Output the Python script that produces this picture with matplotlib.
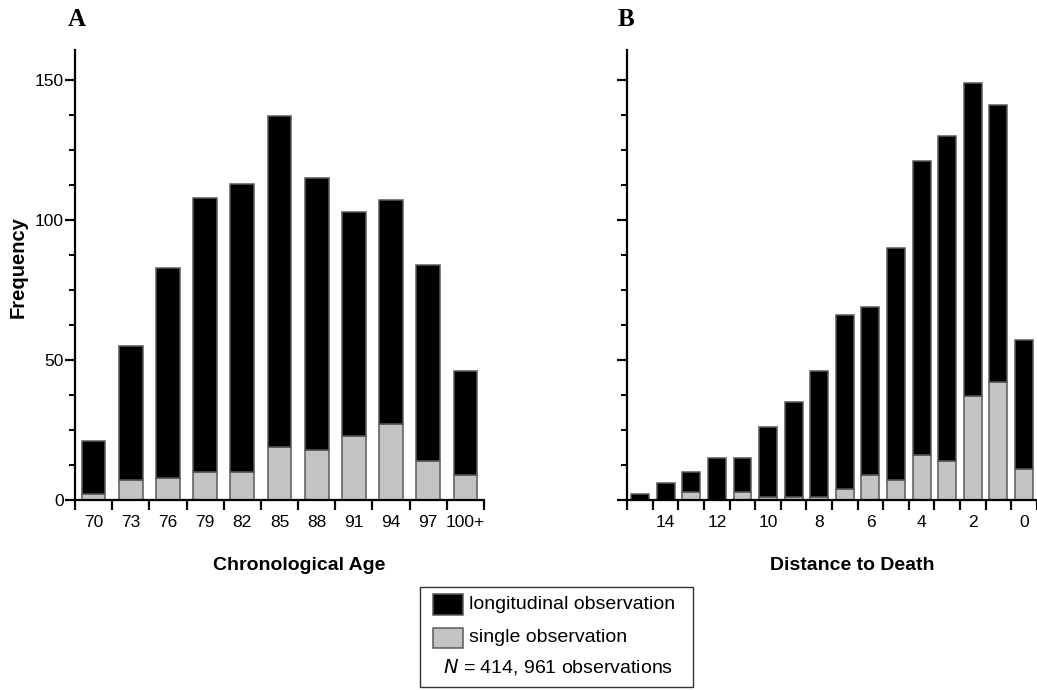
import matplotlib
matplotlib.use('Agg')
import matplotlib.pyplot as plt
import numpy as np
from matplotlib.patches import Rectangle
from matplotlib.ticker import MultipleLocator

plt.rcParams['font.family'] = ['Liberation Sans', 'DejaVu Sans']

# panel A: chronological age bins
ageLabels = ['70', '73', '76', '79', '82', '85', '88', '91', '94', '97', '100+']
ageSingle = [2, 7, 8, 10, 10, 19, 18, 23, 27, 14, 9]
ageLongitudinal = [19, 48, 75, 98, 103, 118, 97, 80, 80, 70, 37]

# panel B: distance to death (years), from 15 down to 0
deathYears = [15, 14, 13, 12, 11, 10, 9, 8, 7, 6, 5, 4, 3, 2, 1, 0]
deathSingle = [0, 0, 3, 0, 3, 1, 1, 1, 4, 9, 7, 16, 14, 37, 42, 11]
deathLongitudinal = [2, 6, 7, 15, 12, 25, 34, 45, 62, 60, 83, 105, 116, 112, 99, 46]

BLACK = '#000000'
GREY = '#c3c3c3'
EDGE = '#5a5a5a'

fig = plt.figure(figsize=(10.37, 6.9), dpi=100)
axA = fig.add_axes([75 / 1037, 1 - 500 / 690, 409 / 1037, 450 / 690])
axB = fig.add_axes([627.3 / 1037, 1 - 500 / 690, 409.5 / 1037, 450 / 690])


def styleAxis(ax, nBins, labelPositions, labels, showYLabels):
    ax.set_xlim(-0.5, nBins - 0.5)
    ax.set_ylim(0, 160.7)
    for side in ['top', 'right']:
        ax.spines[side].set_visible(False)
    for side in ['left', 'bottom']:
        ax.spines[side].set_linewidth(1.6)
    # x: tick marks at bin edges, labels at bin centers
    ax.set_xticks(np.arange(nBins + 1) - 0.5)
    ax.set_xticklabels([])
    ax.tick_params(axis='x', which='major', direction='out', length=7.5, width=1.6)
    ax.set_xticks(labelPositions, minor=True)
    ax.set_xticklabels(labels, minor=True, fontsize=12.5)
    ax.tick_params(axis='x', which='minor', length=0, pad=11)
    # y
    ax.yaxis.set_major_locator(MultipleLocator(50))
    ax.yaxis.set_minor_locator(MultipleLocator(12.5))
    ax.tick_params(axis='y', which='major', direction='out', length=7, width=1.6, pad=1, labelsize=12.5)
    ax.tick_params(axis='y', which='minor', direction='out', length=4, width=1.4)
    if not showYLabels:
        ax.set_yticklabels([])
    for sp in ax.spines.values():
        sp.set_clip_on(False)


# panel A
xA = np.arange(len(ageLabels))
axA.bar(xA, ageSingle, width=0.64, color=GREY, edgecolor=EDGE, linewidth=1.1)
axA.bar(xA, ageLongitudinal, width=0.64, bottom=ageSingle, color=BLACK, edgecolor=EDGE, linewidth=1.1)
styleAxis(axA, len(ageLabels), xA, ageLabels, True)

# panel B
xB = np.arange(len(deathYears))
axB.bar(xB, deathSingle, width=0.7, color=GREY, edgecolor=EDGE, linewidth=1.1)
axB.bar(xB, deathLongitudinal, width=0.7, bottom=deathSingle, color=BLACK, edgecolor=EDGE, linewidth=1.1)
labelIdx = [i for i, y in enumerate(deathYears) if y % 2 == 0]
styleAxis(axB, len(deathYears), labelIdx, [str(deathYears[i]) for i in labelIdx], False)

# panel letters and axis titles
fig.text(77 / 1037, 1 - 19 / 690, 'A', family=['Liberation Serif', 'DejaVu Serif'],
         fontsize=18, fontweight='bold', ha='center', va='center')
fig.text(626 / 1037, 1 - 19 / 690, 'B', family=['Liberation Serif', 'DejaVu Serif'],
         fontsize=18, fontweight='bold', ha='center', va='center')
fig.text(18 / 1037, 1 - 267 / 690, 'Frequency', rotation=90, fontsize=14.5,
         fontweight='bold', ha='center', va='center')
fig.text(299 / 1037, 1 - 565 / 690, 'Chronological Age', fontsize=14,
         fontweight='bold', ha='center', va='center')
fig.text(852 / 1037, 1 - 565 / 690, 'Distance to Death', fontsize=14,
         fontweight='bold', ha='center', va='center')

# legend box
fig.patches.append(Rectangle((420 / 1037, 1 - 687 / 690), 272.7 / 1037, 99.7 / 690,
                             transform=fig.transFigure, facecolor='white',
                             edgecolor='#333333', linewidth=1.0))
fig.patches.append(Rectangle((432.7 / 1037, 1 - 615 / 690), 30.6 / 1037, 21 / 690,
                             transform=fig.transFigure, facecolor=BLACK,
                             edgecolor=EDGE, linewidth=1.1))
fig.patches.append(Rectangle((432.7 / 1037, 1 - 647.7 / 690), 30.6 / 1037, 20 / 690,
                             transform=fig.transFigure, facecolor=GREY,
                             edgecolor=EDGE, linewidth=1.1))
fig.text(468.7 / 1037, 1 - 604.5 / 690, 'longitudinal observation', fontsize=14,
         ha='left', va='center')
fig.text(468.7 / 1037, 1 - 637.7 / 690, 'single observation', fontsize=14,
         ha='left', va='center')
fig.text(442.7 / 1037, 1 - 666.7 / 690, '$N$ = 414, 961 observations', fontsize=14,
         ha='left', va='center')

fig.savefig('out.png', dpi=100)
